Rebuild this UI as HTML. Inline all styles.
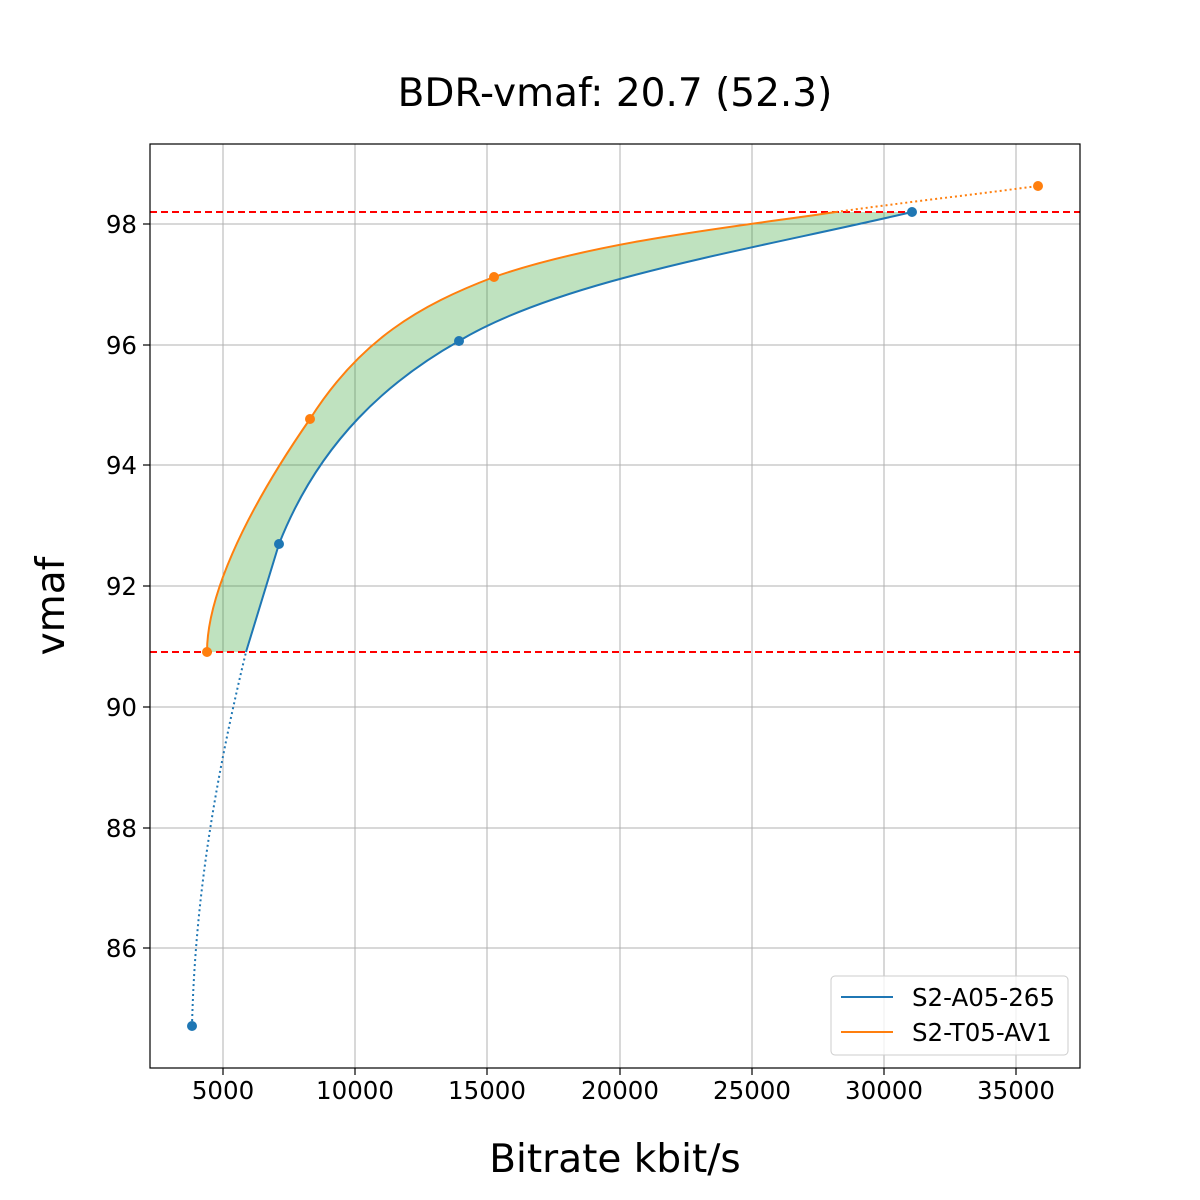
<!DOCTYPE html>
<html><head><meta charset="utf-8"><style>body{margin:0;background:#fff}svg{display:block}text{font-family:"DejaVu Sans","Liberation Sans",sans-serif;fill:#000}</style></head>
<body>
<svg width="1200" height="1200" viewBox="0 0 1200 1200" xmlns="http://www.w3.org/2000/svg">
<rect width="1200" height="1200" fill="#fff"/>
<g stroke="#b0b0b0" stroke-width="1">
<line x1="223" y1="144" x2="223" y2="1068"/><line x1="355" y1="144" x2="355" y2="1068"/><line x1="487" y1="144" x2="487" y2="1068"/><line x1="620" y1="144" x2="620" y2="1068"/><line x1="752" y1="144" x2="752" y2="1068"/><line x1="884" y1="144" x2="884" y2="1068"/><line x1="1016" y1="144" x2="1016" y2="1068"/>
<line x1="150" y1="224" x2="1080" y2="224"/><line x1="150" y1="345" x2="1080" y2="345"/><line x1="150" y1="465" x2="1080" y2="465"/><line x1="150" y1="586" x2="1080" y2="586"/><line x1="150" y1="707" x2="1080" y2="707"/><line x1="150" y1="828" x2="1080" y2="828"/><line x1="150" y1="948" x2="1080" y2="948"/>
</g>
<path d="M207,652 C207,600 240,520 310,419 C360,340 420,305 494,277 C600,240 750,225 836,212 L912,212 C750,250 560,280 459,341 C390,380 320,440 279,544 L246,652 Z" fill="#2ca02c" fill-opacity="0.3"/>
<line x1="150" y1="212" x2="1080" y2="212" stroke="#ff0000" stroke-width="2" stroke-dasharray="7,4"/>
<line x1="150" y1="652" x2="1080" y2="652" stroke="#ff0000" stroke-width="2" stroke-dasharray="7,4"/>
<path d="M192,1026 C195,900 215,780 246,652" fill="none" stroke="#1f77b4" stroke-width="2" stroke-dasharray="2,3"/>
<path d="M246,652 L279,544 C320,440 390,380 459,341 C560,280 750,250 912,212" fill="none" stroke="#1f77b4" stroke-width="2"/>
<path d="M207,652 C207,600 240,520 310,419 C360,340 420,305 494,277 C600,240 750,225 836,212" fill="none" stroke="#ff7f0e" stroke-width="2"/>
<path d="M836,212 C900,203 970,195 1038,186" fill="none" stroke="#ff7f0e" stroke-width="2" stroke-dasharray="2,3"/>
<g fill="#1f77b4"><circle cx="192" cy="1026" r="5"/><circle cx="279" cy="544" r="5"/><circle cx="459" cy="341" r="5"/><circle cx="912" cy="212" r="5"/></g>
<g fill="#ff7f0e"><circle cx="207" cy="652" r="5"/><circle cx="310" cy="419" r="5"/><circle cx="494" cy="277" r="5"/><circle cx="1038" cy="186" r="5"/></g>
<rect x="150" y="144" width="930" height="924" fill="none" stroke="#000" stroke-width="1.2"/>
<g stroke="#000" stroke-width="1.2">
<line x1="223" y1="1068" x2="223" y2="1075"/><line x1="355" y1="1068" x2="355" y2="1075"/><line x1="487" y1="1068" x2="487" y2="1075"/><line x1="620" y1="1068" x2="620" y2="1075"/><line x1="752" y1="1068" x2="752" y2="1075"/><line x1="884" y1="1068" x2="884" y2="1075"/><line x1="1016" y1="1068" x2="1016" y2="1075"/>
<line x1="143" y1="224" x2="150" y2="224"/><line x1="143" y1="345" x2="150" y2="345"/><line x1="143" y1="465" x2="150" y2="465"/><line x1="143" y1="586" x2="150" y2="586"/><line x1="143" y1="707" x2="150" y2="707"/><line x1="143" y1="828" x2="150" y2="828"/><line x1="143" y1="948" x2="150" y2="948"/>
</g>
<g font-size="24.5" text-anchor="middle">
<text x="223" y="1099">5000</text><text x="355" y="1099">10000</text><text x="487" y="1099">15000</text><text x="620" y="1099">20000</text><text x="752" y="1099">25000</text><text x="884" y="1099">30000</text><text x="1016" y="1099">35000</text>
</g>
<g font-size="24.5" text-anchor="end">
<text x="137" y="233">98</text><text x="137" y="354">96</text><text x="137" y="474">94</text><text x="137" y="595">92</text><text x="137" y="716">90</text><text x="137" y="837">88</text><text x="137" y="957">86</text>
</g>
<text x="615" y="106" font-size="39" text-anchor="middle">BDR-vmaf: 20.7 (52.3)</text>
<text x="615" y="1172" font-size="39" text-anchor="middle">Bitrate kbit/s</text>
<text transform="translate(64,606) rotate(-90)" font-size="39" text-anchor="middle">vmaf</text>
<rect x="831" y="976" width="237" height="79" rx="4" fill="#fff" fill-opacity="0.8" stroke="#ccc"/>
<line x1="841" y1="997" x2="893" y2="997" stroke="#1f77b4" stroke-width="2"/>
<line x1="841" y1="1032" x2="893" y2="1032" stroke="#ff7f0e" stroke-width="2"/>
<text x="912" y="1006" font-size="24.5">S2-A05-265</text>
<text x="912" y="1041" font-size="24.5">S2-T05-AV1</text>
</svg>
</body></html>
